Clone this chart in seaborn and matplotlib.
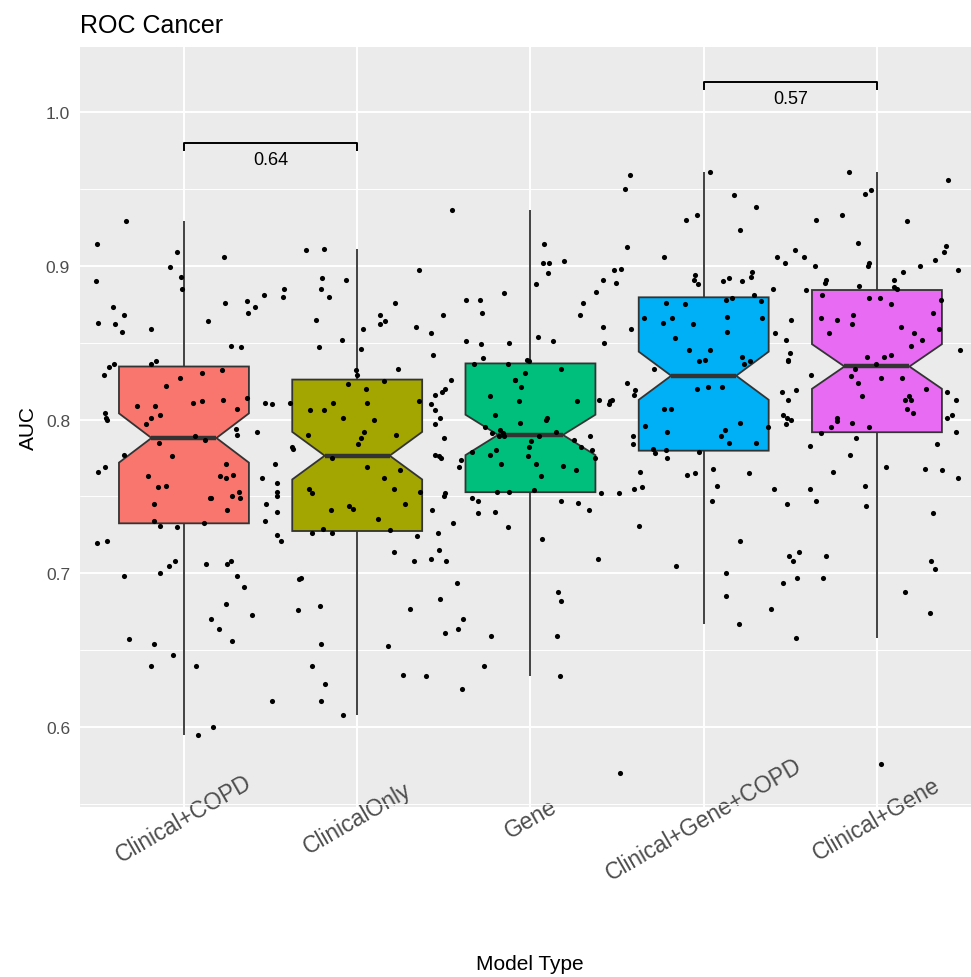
import numpy as np
import pandas as pd
import matplotlib
matplotlib.use("Agg")
import matplotlib.pyplot as plt
import seaborn as sns

# ---- data -------------------------------------------------------------
categories = ["Clinical+COPD", "ClinicalOnly", "Gene", "Clinical+Gene+COPD", "Clinical+Gene"]
palette = ["#F8766D", "#A3A500", "#00BF7D", "#00B0F6", "#E76BF3"]

auc_clinical_copd = [
    0.929, 0.914, 0.909, 0.906, 0.899, 0.893, 0.890, 0.885, 0.881, 0.877,
    0.876, 0.873, 0.873, 0.869, 0.868, 0.864, 0.863, 0.862, 0.859, 0.857,
    0.848, 0.847, 0.838, 0.836, 0.836, 0.834, 0.832, 0.830, 0.829, 0.827,
    0.822, 0.814, 0.813, 0.812, 0.811, 0.811, 0.810, 0.809, 0.809, 0.807,
    0.804, 0.803, 0.801, 0.801, 0.800, 0.797, 0.794, 0.792, 0.790, 0.789,
    0.787, 0.785, 0.777, 0.776, 0.771, 0.769, 0.766, 0.764, 0.763, 0.763,
    0.762, 0.762, 0.757, 0.756, 0.753, 0.750, 0.749, 0.749, 0.749, 0.745,
    0.745, 0.741, 0.734, 0.734, 0.733, 0.731, 0.730, 0.721, 0.720, 0.708,
    0.708, 0.706, 0.706, 0.705, 0.700, 0.698, 0.698, 0.691, 0.680, 0.673,
    0.670, 0.664, 0.657, 0.656, 0.654, 0.647, 0.640, 0.640, 0.600, 0.595,
]
auc_clinical_only = [
    0.911, 0.910, 0.897, 0.892, 0.891, 0.885, 0.885, 0.880, 0.880, 0.876,
    0.868, 0.868, 0.865, 0.864, 0.862, 0.860, 0.859, 0.856, 0.852, 0.847,
    0.846, 0.842, 0.833, 0.832, 0.829, 0.825, 0.823, 0.820, 0.818, 0.816,
    0.812, 0.811, 0.811, 0.811, 0.810, 0.806, 0.806, 0.806, 0.801, 0.801,
    0.800, 0.797, 0.792, 0.790, 0.790, 0.788, 0.784, 0.782, 0.781, 0.777,
    0.776, 0.775, 0.775, 0.771, 0.769, 0.767, 0.762, 0.759, 0.755, 0.755,
    0.753, 0.753, 0.752, 0.752, 0.750, 0.750, 0.745, 0.744, 0.742, 0.741,
    0.741, 0.740, 0.735, 0.729, 0.728, 0.726, 0.726, 0.726, 0.725, 0.724,
    0.721, 0.715, 0.714, 0.709, 0.708, 0.697, 0.696, 0.683, 0.679, 0.677,
    0.676, 0.654, 0.653, 0.640, 0.634, 0.633, 0.628, 0.617, 0.617, 0.608,
]
auc_gene = [
    0.936, 0.914, 0.903, 0.902, 0.902, 0.895, 0.891, 0.888, 0.883, 0.882,
    0.878, 0.878, 0.876, 0.869, 0.868, 0.860, 0.854, 0.851, 0.851, 0.850,
    0.850, 0.849, 0.840, 0.839, 0.838, 0.836, 0.836, 0.833, 0.830, 0.826,
    0.826, 0.826, 0.821, 0.820, 0.815, 0.813, 0.813, 0.812, 0.812, 0.812,
    0.810, 0.803, 0.801, 0.800, 0.798, 0.795, 0.793, 0.792, 0.791, 0.791,
    0.789, 0.789, 0.789, 0.789, 0.788, 0.787, 0.786, 0.782, 0.782, 0.780,
    0.780, 0.779, 0.777, 0.776, 0.775, 0.774, 0.771, 0.771, 0.770, 0.769,
    0.767, 0.763, 0.754, 0.753, 0.753, 0.752, 0.752, 0.749, 0.747, 0.747,
    0.746, 0.741, 0.740, 0.739, 0.733, 0.730, 0.722, 0.709, 0.708, 0.694,
    0.688, 0.682, 0.670, 0.664, 0.661, 0.659, 0.659, 0.640, 0.633, 0.625,
]
auc_clinical_gene_copd = [
    0.961, 0.959, 0.950, 0.946, 0.938, 0.933, 0.930, 0.923, 0.912, 0.906,
    0.906, 0.902, 0.898, 0.897, 0.896, 0.894, 0.893, 0.892, 0.891, 0.890,
    0.890, 0.889, 0.888, 0.885, 0.881, 0.879, 0.878, 0.877, 0.876, 0.875,
    0.867, 0.866, 0.866, 0.866, 0.863, 0.862, 0.859, 0.857, 0.856, 0.853,
    0.852, 0.845, 0.845, 0.843, 0.841, 0.839, 0.838, 0.838, 0.836, 0.833,
    0.824, 0.821, 0.821, 0.820, 0.819, 0.818, 0.816, 0.813, 0.807, 0.807,
    0.803, 0.801, 0.798, 0.797, 0.796, 0.795, 0.793, 0.792, 0.789, 0.789,
    0.785, 0.785, 0.784, 0.781, 0.780, 0.779, 0.778, 0.775, 0.768, 0.766,
    0.765, 0.765, 0.764, 0.757, 0.756, 0.755, 0.755, 0.747, 0.745, 0.731,
    0.721, 0.711, 0.708, 0.705, 0.700, 0.694, 0.685, 0.677, 0.667, 0.570,
]
auc_clinical_gene = [
    0.961, 0.956, 0.949, 0.947, 0.933, 0.930, 0.929, 0.915, 0.913, 0.910,
    0.909, 0.906, 0.904, 0.902, 0.900, 0.900, 0.900, 0.897, 0.896, 0.891,
    0.891, 0.889, 0.887, 0.886, 0.885, 0.884, 0.881, 0.879, 0.879, 0.878,
    0.875, 0.869, 0.868, 0.866, 0.865, 0.865, 0.862, 0.860, 0.859, 0.856,
    0.856, 0.852, 0.848, 0.845, 0.842, 0.841, 0.841, 0.839, 0.838, 0.836,
    0.833, 0.829, 0.828, 0.827, 0.827, 0.824, 0.820, 0.819, 0.818, 0.815,
    0.815, 0.813, 0.813, 0.813, 0.807, 0.804, 0.803, 0.801, 0.801, 0.800,
    0.799, 0.798, 0.795, 0.795, 0.792, 0.791, 0.788, 0.784, 0.783, 0.777,
    0.769, 0.768, 0.767, 0.766, 0.762, 0.757, 0.755, 0.747, 0.744, 0.739,
    0.714, 0.711, 0.708, 0.703, 0.697, 0.697, 0.688, 0.674, 0.658, 0.576,
]

# pairwise comparisons shown as brackets with their p-values
comparisons = [("Clinical+COPD", "ClinicalOnly"), ("Clinical+Gene+COPD", "Clinical+Gene")]
comparison_labels = ["0.64", "0.57"]
bracket_levels = [0.9798, 1.0195]

y_ticks = [0.6, 0.7, 0.8, 0.9, 1.0]
y_tick_labels = ["0.6", "0.7", "0.8", "0.9", "1.0"]

# ---- long table -------------------------------------------------------
series = [auc_clinical_copd, auc_clinical_only, auc_gene,
          auc_clinical_gene_copd, auc_clinical_gene]
df = pd.DataFrame({
    "Model Type": np.repeat(categories, [len(s) for s in series]),
    "AUC": np.concatenate(series),
})

# ---- styling ----------------------------------------------------------
sns.set_style("darkgrid")
plt.rcParams["font.family"] = ["Liberation Sans", "DejaVu Sans"]

W, H = 971, 978
fig = plt.figure(figsize=(W / 100, H / 100), dpi=100)
ax = fig.add_axes([80 / W, 1 - 808 / H, (W - 80) / W, (808 - 48) / H])
ax.set_facecolor("#EBEBEB")

sns.boxplot(
    data=df, x="Model Type", y="AUC", hue="Model Type",
    order=categories, hue_order=categories, palette=palette,
    saturation=1, width=0.75, notch=True, showcaps=False, showfliers=False,
    linecolor="#333333", linewidth=1.3, medianprops=dict(linewidth=3.2),
    legend=False, ax=ax,
)

np.random.seed(11)
sns.stripplot(
    data=df, x="Model Type", y="AUC", order=categories,
    color="black", size=3.7, jitter=0.52, linewidth=0, ax=ax, zorder=5,
)

# significance brackets
pos = {c: i for i, c in enumerate(categories)}
tip = 0.0052
for (a, b), lab, lvl in zip(comparisons, comparison_labels, bracket_levels):
    x1, x2 = pos[a], pos[b]
    ax.plot([x1, x1, x2, x2], [lvl - tip, lvl, lvl, lvl - tip],
            color="black", lw=1.4, solid_capstyle="butt", zorder=6)
    ax.text((x1 + x2) / 2, lvl - 0.0104, lab, ha="center", va="center",
            fontsize=13, color="black")

# axes, grid and ticks
ax.set_xlim(-0.6, -0.6 + (W - 80) / 173.25)
ax.set_ylim(0.548, 1.0423)
ax.set_yticks(y_ticks)
ax.set_yticklabels(y_tick_labels)
ax.set_yticks([0.55, 0.65, 0.75, 0.85, 0.95], minor=True)
ax.set_xticks(range(len(categories)))
ax.set_xticklabels(categories, rotation=30, ha="center", va="center",
                   rotation_mode="default")
ax.set_axisbelow(True)
ax.grid(which="major", color="white", linewidth=1.4)
ax.grid(which="minor", axis="y", color="white", linewidth=0.7)
ax.tick_params(axis="both", which="major", length=3.7, width=1.0,
               color="#333333", labelcolor="#4D4D4D")
ax.tick_params(axis="y", which="minor", length=0)
ax.tick_params(axis="y", labelsize=12.5, pad=3.5)
ax.tick_params(axis="x", labelsize=16.5, pad=4.5)
for sp in ax.spines.values():
    sp.set_visible(False)
ax.set_xlabel("")
ax.set_ylabel("")

fig.text(80 / W, 1 - 33 / H, "ROC Cancer", fontsize=18, ha="left",
         va="baseline", color="black")
fig.text(28 / W, 1 - 428 / H, "AUC", fontsize=15, rotation=90,
         ha="center", va="center", color="black")
fig.text(530 / W, 1 - 965 / H, "Model Type", fontsize=15,
         ha="center", va="center", color="black")

fig.savefig("out.png", dpi=100, facecolor="white")
